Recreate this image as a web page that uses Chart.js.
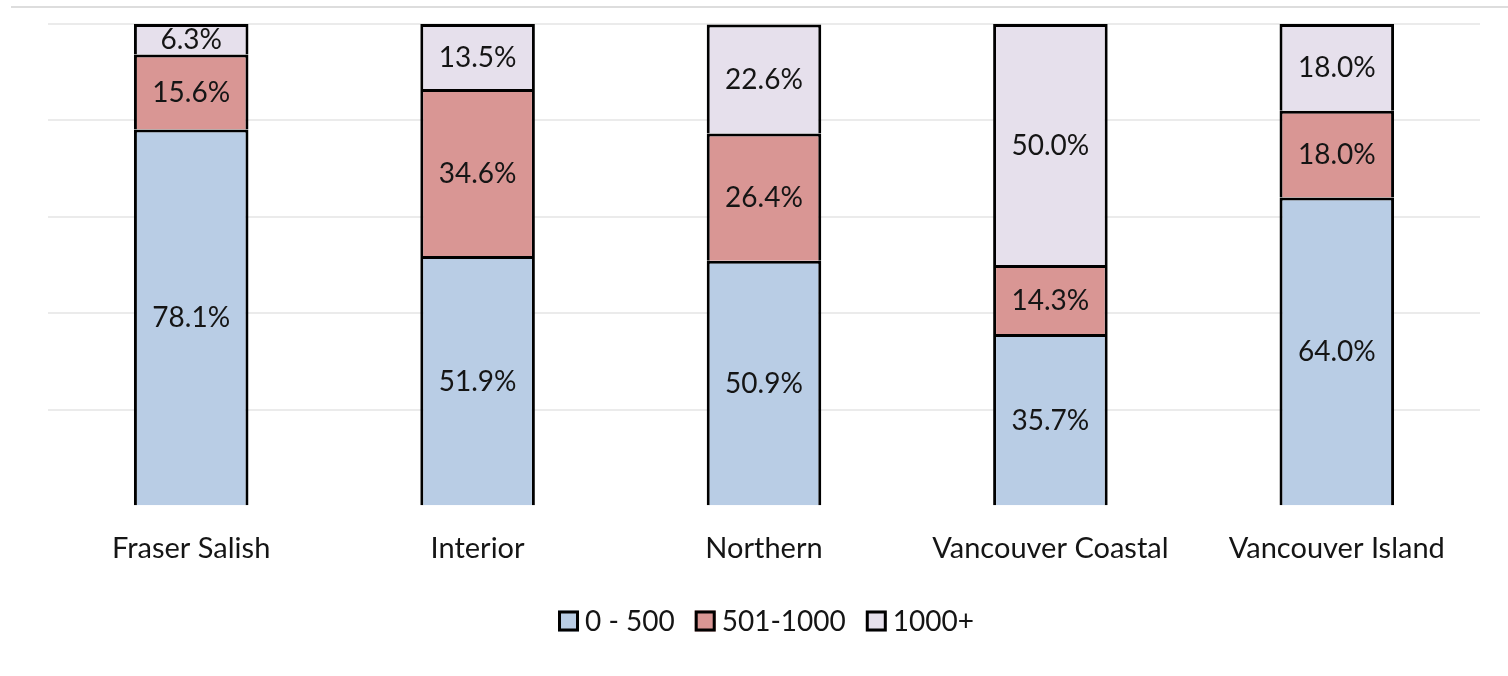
<!DOCTYPE html>
<html>
<head>
<meta charset="utf-8">
<script src="https://cdn.jsdelivr.net/npm/chart.js@4"></script>
<style>
  html, body { margin: 0; padding: 0; background: #fff; }
  #wrap { width: 1508px; height: 676px; }
</style>
</head>
<body>
<div id="wrap"><canvas id="regionChart" width="1508" height="676"></canvas></div>
<script>
const regions = ['Fraser Salish', 'Interior', 'Northern', 'Vancouver Coastal', 'Vancouver Island'];
const low = [78.1, 51.9, 50.9, 35.7, 64.0];
const mid = [15.6, 34.6, 26.4, 14.3, 18.0];
const high = [6.3, 13.5, 22.6, 50.0, 18.0];
const yTicks = [0, 20, 40, 60, 80, 100];

const fontFamily = 'Lato, "Open Sans", sans-serif';
const textColor = '#151515';

// value labels in the middle of each segment
const segmentLabels = {
    id: 'segmentLabels',
    afterDatasetsDraw(chart) {
        const ctx = chart.ctx;
        ctx.save();
        ctx.font = '28px ' + fontFamily;
        ctx.fillStyle = textColor;
        ctx.textAlign = 'center';
        ctx.textBaseline = 'middle';
        chart.data.datasets.forEach((ds, i) => {
            chart.getDatasetMeta(i).data.forEach((bar, j) => {
                const p = bar.getCenterPoint();
                ctx.fillText(ds.data[j].toFixed(1) + '%', p.x, p.y + 1);
            });
        });
        ctx.restore();
    }
};

// legend with tight box/text gap, drawn under the axis labels
const tightLegend = {
    id: 'tightLegend',
    afterDraw(chart) {
        const ctx = chart.ctx;
        const area = chart.chartArea;
        ctx.save();
        ctx.font = '28px ' + fontFamily;
        ctx.textBaseline = 'middle';
        const box = 21, gap = 6, itemGap = 20, y = 621;
        const items = chart.data.datasets.map(ds => ({
            label: ds.label, color: ds.backgroundColor, w: box + gap + ctx.measureText(ds.label).width
        }));
        const total = items.reduce((s, it) => s + it.w, 0) + itemGap * (items.length - 1);
        let x = (area.left + area.right - total) / 2 + 2;
        items.forEach(it => {
            ctx.fillStyle = it.color;
            ctx.fillRect(x, y - box / 2, box, box);
            ctx.lineWidth = 3;
            ctx.strokeStyle = '#000';
            ctx.strokeRect(x + 1.5, y - box / 2 + 1.5, box - 3, box - 3);
            ctx.fillStyle = textColor;
            ctx.fillText(it.label, x + box + gap, y + 1);
            x += it.w + itemGap;
        });
        // thin rule at the very top of the picture
        ctx.strokeStyle = '#dddddd';
        ctx.lineWidth = 2;
        ctx.beginPath();
        ctx.moveTo(11, 7);
        ctx.lineTo(chart.width, 7);
        ctx.stroke();
        ctx.restore();
    }
};

const barStyle = {
    borderColor: '#000000',
    borderWidth: 3,
    barPercentage: 0.4,
    categoryPercentage: 1
};

new Chart(document.getElementById('regionChart'), {
    type: 'bar',
    data: {
        labels: regions,
        datasets: [
            { label: '0 - 500', data: low, backgroundColor: '#b9cde5', ...barStyle },
            { label: '501-1000', data: mid, backgroundColor: '#d99694', ...barStyle },
            { label: '1000+', data: high, backgroundColor: '#e6e0ec', ...barStyle }
        ]
    },
    options: {
        responsive: false,
        animation: false,
        layout: {
            padding: { left: 48, right: 28, top: 24, bottom: 93 }
        },
        plugins: {
            legend: { display: false },
            tooltip: { enabled: false }
        },
        scales: {
            x: {
                stacked: true,
                grid: { display: false },
                border: { display: false },
                ticks: {
                    color: textColor,
                    padding: 17,
                    font: { family: fontFamily, size: 29 },
                    maxRotation: 0
                }
            },
            y: {
                stacked: true,
                min: 0,
                max: 100,
                afterBuildTicks: axis => { axis.ticks = yTicks.map(v => ({ value: v })); },
                border: { display: false },
                grid: {
                    drawTicks: false,
                    lineWidth: 2,
                    color: c => c.tick.value === 0 ? 'rgba(0,0,0,0)' : '#ebebeb'
                },
                ticks: { display: false }
            }
        }
    },
    plugins: [segmentLabels, tightLegend]
});
</script>
</body>
</html>
